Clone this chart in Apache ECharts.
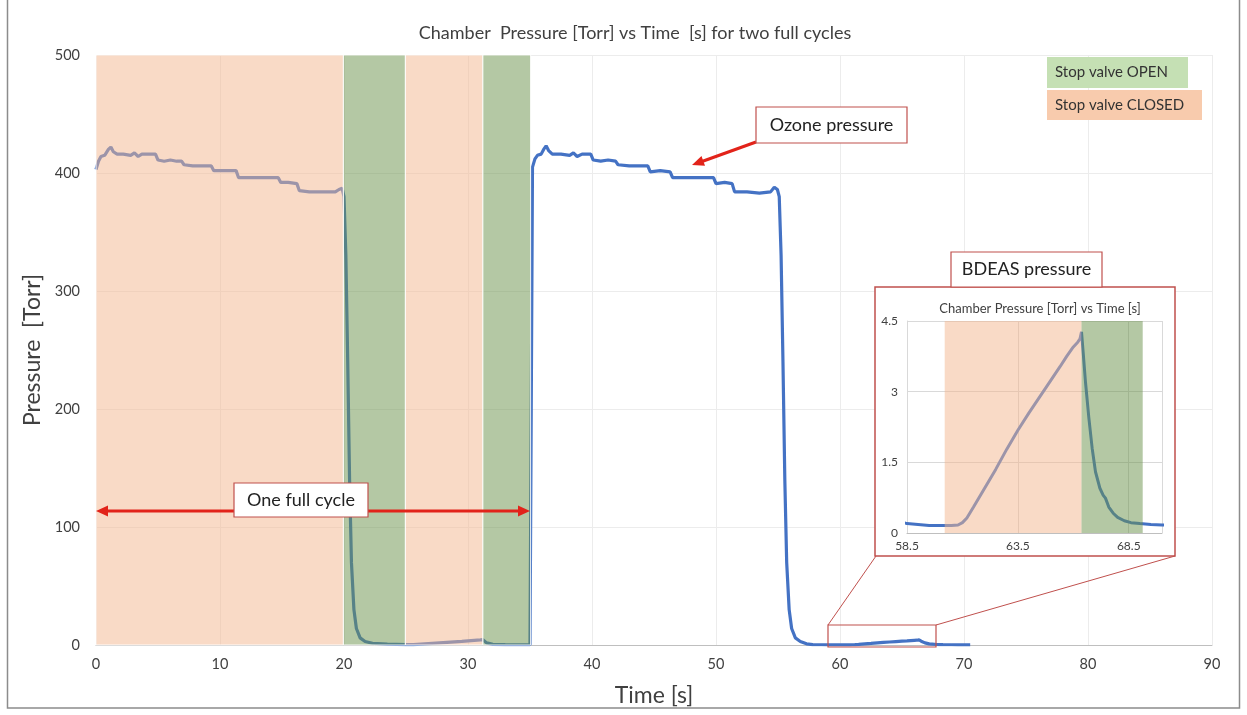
<!DOCTYPE html>
<html>
<head>
<meta charset="utf-8">
<script src="https://cdn.jsdelivr.net/npm/echarts@6/dist/echarts.min.js"></script>
<style>html,body{margin:0;padding:0;background:#fff;}#c{width:1247px;height:715px;}</style>
</head>
<body>
<div id="c"></div>
<script>
// ---- data ----
const timeS = [
  0, 0.2, 0.4, 0.7, 1.0, 1.2, 1.4, 1.7, 2.2, 2.8, 3.1, 3.4, 3.7, 4.1, 4.8, 5.0, 5.5, 6.0, 6.5, 6.9,
  7.1, 7.8, 8.5, 9.3, 9.5, 10.2, 11.3, 11.5, 12.5, 13.5, 14.7, 14.9, 15.5, 16.2, 16.4, 17.2, 18.2, 19.3, 19.6, 19.85,
  20.0, 20.15, 20.3, 20.45, 20.6, 20.8, 21.0, 21.3, 21.7, 22.3, 23.5, 25.0, 25.6, 26.5, 28.0, 29.5, 31.0, 31.2, 31.5, 32.0,
  33.0, 35.0, 35.1, 35.2, 35.4, 35.6, 35.9, 36.1, 36.3, 36.5, 36.8, 37.5, 38.2, 38.5, 38.8, 39.2, 39.9, 40.1, 40.7, 41.3,
  41.9, 42.1, 43.0, 44.5, 44.7, 45.5, 46.3, 46.5, 48.0, 49.8, 50.0, 50.7, 51.3, 51.5, 52.5, 53.5, 54.4, 54.7, 54.95, 55.1,
  55.25, 55.4, 55.55, 55.7, 55.9, 56.1, 56.4, 56.8, 57.3, 57.8, 58.5, 59.0, 59.5, 60.0, 60.5, 60.8, 61.0, 61.2, 61.5, 62.0,
  62.5, 63.0, 63.5, 64.0, 64.5, 65.0, 65.4, 65.7, 66.0, 66.2, 66.3, 66.37, 66.45, 66.55, 66.7, 66.85, 67.0, 67.2, 67.35, 67.45,
  67.6, 67.8, 68.0, 68.3, 68.6, 69.0, 69.5, 70.0, 70.5
];
const pressureTorr = [
  403, 410, 414, 415, 420, 422, 418, 416, 416, 415, 417, 414, 416, 416, 416, 411, 410, 411, 410, 410,
  407, 406, 406, 406, 402, 402, 402, 396, 396, 396, 396, 392, 392, 391, 385, 384, 384, 384, 386, 387,
  380, 330, 240, 140, 70, 30, 14, 6, 3, 1.5, 0.8, 0.3, 0.3, 1.0, 2.0, 3.0, 4.3, 4.5, 1.8, 0.5,
  0.3, 0.2, 200, 405, 412, 415, 416, 420, 423, 419, 416, 416, 415, 417, 414, 416, 416, 411, 410, 411,
  410, 407, 406, 406, 401, 402, 401, 396, 396, 396, 391, 392, 391, 384, 384, 383, 384, 388, 386, 380,
  330, 240, 140, 70, 30, 14, 6, 3, 1.0, 0.3, 0.2, 0.18, 0.16, 0.16, 0.16, 0.17, 0.22, 0.32, 0.55, 0.95,
  1.35, 1.78, 2.18, 2.55, 2.9, 3.25, 3.53, 3.75, 3.95, 4.05, 4.12, 4.27, 3.8, 3.2, 2.45, 1.8, 1.3, 0.95, 0.8, 0.74,
  0.55, 0.42, 0.33, 0.26, 0.22, 0.2, 0.18, 0.17, 0.17
];
// valve state bands (main chart)
const bandStart = [0, 19.95, 24.95, 31.2];
const bandEnd   = [19.95, 24.95, 31.2, 35.05];
const bandState = ['CLOSED', 'OPEN', 'CLOSED', 'OPEN'];
// valve state bands (inset)
const insetBandStart = [60.2, 66.37];
const insetBandEnd   = [66.37, 69.13];
const insetBandState = ['CLOSED', 'OPEN'];
// axis ticks
const mainXTicks = {min: 0, max: 90, interval: 10};
const mainYTicks = {min: 0, max: 500, interval: 100};
const insetXTicks = {min: 58.5, max: 70, interval: 5};
const insetYTicks = {min: 0, max: 4.5, interval: 1.5};
const insetFrom = 57.8;

// ---- build ----
const FONT = 'Lato, "Open Sans", sans-serif';
const bandFill = {CLOSED: 'rgba(243,181,141,0.5)', OPEN: 'rgba(105,145,73,0.5)'};
const pts = timeS.map((t, i) => [t, pressureTorr[i]]);
const insetPts = pts.filter(p => p[0] >= insetFrom);
function bands(s, e, st) {
  return s.map((v, i) => [{xAxis: v, itemStyle: {color: bandFill[st[i]]}}, {xAxis: e[i]}]);
}
const RED = '#C0504D';
const ARW = '#E2231A';

const chart = echarts.init(document.getElementById('c'), null, {renderer: 'canvas'});
const option = {
  backgroundColor: '#fff',
  animation: false,
  title: [
    {text: 'Chamber  Pressure [Torr] vs Time  [s] for two full cycles', left: 630, top: 19, textAlign: 'center',
     textStyle: {fontFamily: FONT, fontSize: 18, fontWeight: 'normal', color: '#404040'}},
    {text: 'Chamber Pressure [Torr] vs Time [s]', left: 1035, top: 297, textAlign: 'center', z: 8,
     textStyle: {fontFamily: FONT, fontSize: 13, fontWeight: 'normal', color: '#404040'}}
  ],
  grid: [
    {left: 96, right: 35, top: 55, bottom: 70},
    {left: 907, right: 85, top: 321, bottom: 182, z: 5}
  ],
  xAxis: [
    {type: 'value', gridIndex: 0, ...mainXTicks, z: 0,
     name: 'Time [s]', nameLocation: 'middle', nameGap: 39,
     nameTextStyle: {fontFamily: FONT, fontSize: 23, color: '#404040'},
     axisLine: {show: true, lineStyle: {color: '#bfbfbf', width: 1}}, axisTick: {show: false},
     axisLabel: {fontFamily: FONT, fontSize: 14.5, color: '#404040', margin: 12},
     splitLine: {show: true, lineStyle: {color: '#ececec', width: 1}}},
    {type: 'value', gridIndex: 1, ...insetXTicks, z: 5,
     axisLine: {show: true, lineStyle: {color: '#bfbfbf'}}, axisTick: {show: false},
     axisLabel: {fontFamily: FONT, fontSize: 12, color: '#404040', margin: 7, showMaxLabel: false},
     splitLine: {show: true, lineStyle: {color: '#d9d9d9'}}}
  ],
  yAxis: [
    {type: 'value', gridIndex: 0, ...mainYTicks, z: 0,
     name: 'Pressure  [Torr]', nameLocation: 'middle', nameGap: 50, nameRotate: 90,
     nameTextStyle: {fontFamily: FONT, fontSize: 23, color: '#404040'},
     axisLine: {show: false}, axisTick: {show: false},
     axisLabel: {fontFamily: FONT, fontSize: 14.5, color: '#404040', margin: 16},
     splitLine: {show: true, lineStyle: {color: '#ececec', width: 1}}},
    {type: 'value', gridIndex: 1, ...insetYTicks, z: 5,
     axisLine: {show: true, lineStyle: {color: '#d9d9d9'}}, axisTick: {show: false},
     axisLabel: {fontFamily: FONT, fontSize: 12, color: '#404040', margin: 9},
     splitLine: {show: true, lineStyle: {color: '#d9d9d9'}}}
  ],
  series: [
    {type: 'line', name: 'pressure', xAxisIndex: 0, yAxisIndex: 0, data: pts, z: 2,
     showSymbol: false, symbol: 'none', lineStyle: {color: '#4472C4', width: 3.2}},
    {type: 'line', name: 'valve', xAxisIndex: 0, yAxisIndex: 0, data: [], z: 3, silent: true,
     markArea: {silent: true, z: 3, itemStyle: {borderColor: 'rgba(255,255,255,0.9)', borderWidth: 1},
       data: bands(bandStart, bandEnd, bandState)}},
    {type: 'line', name: 'inset', xAxisIndex: 1, yAxisIndex: 1, data: insetPts, z: 6, clip: true,
     showSymbol: false, symbol: 'none', lineStyle: {color: '#4472C4', width: 3}},
    {type: 'line', name: 'insetValve', xAxisIndex: 1, yAxisIndex: 1, data: [], z: 7, silent: true,
     markArea: {silent: true, z: 7, itemStyle: {borderWidth: 0}, data: bands(insetBandStart, insetBandEnd, insetBandState)}}
  ],
  graphic: [
    // outer frame
    {type: 'rect', z: 20, silent: true, shape: {x: 7.5, y: -2, width: 1232, height: 710},
     style: {fill: 'none', stroke: '#8c8c8c', lineWidth: 1.5}},
    // legend
    {type: 'rect', z: 10, shape: {x: 1047, y: 57, width: 141, height: 31}, style: {fill: '#C5E0B4'}},
    {type: 'text', z: 11, x: 1055, y: 72.5, style: {text: 'Stop valve OPEN', fontFamily: FONT, fontSize: 15, fill: '#333', verticalAlign: 'middle'}},
    {type: 'rect', z: 10, shape: {x: 1047, y: 90, width: 155, height: 30}, style: {fill: '#F8CBAD'}},
    {type: 'text', z: 11, x: 1055, y: 105, style: {text: 'Stop valve CLOSED', fontFamily: FONT, fontSize: 15, fill: '#333', verticalAlign: 'middle'}},
    // ozone annotation
    {type: 'line', z: 10, shape: {x1: 756, y1: 142, x2: 702, y2: 161.5}, style: {stroke: ARW, lineWidth: 3}},
    {type: 'polygon', z: 10, shape: {points: [[692, 165], [705, 165.8], [701.5, 156]]}, style: {fill: ARW}},
    {type: 'rect', z: 11, shape: {x: 756, y: 107, width: 151, height: 36}, style: {fill: '#fff', stroke: RED, lineWidth: 1.2}},
    {type: 'text', z: 12, x: 831.5, y: 125, style: {text: 'Ozone pressure', fontFamily: FONT, fontSize: 18, fill: '#222', align: 'center', verticalAlign: 'middle'}},
    // one full cycle annotation
    {type: 'line', z: 10, shape: {x1: 106, y1: 511, x2: 520, y2: 511}, style: {stroke: ARW, lineWidth: 3}},
    {type: 'polygon', z: 10, shape: {points: [[96, 511], [108, 505.5], [108, 516.5]]}, style: {fill: ARW}},
    {type: 'polygon', z: 10, shape: {points: [[530, 511], [518, 505.5], [518, 516.5]]}, style: {fill: ARW}},
    {type: 'rect', z: 11, shape: {x: 234, y: 483, width: 134, height: 34}, style: {fill: '#fff', stroke: RED, lineWidth: 1.2}},
    {type: 'text', z: 12, x: 301, y: 500, style: {text: 'One full cycle', fontFamily: FONT, fontSize: 18, fill: '#222', align: 'center', verticalAlign: 'middle'}},
    // zoom indicator
    {type: 'rect', z: 10, shape: {x: 828, y: 625, width: 108, height: 22}, style: {fill: 'none', stroke: RED, lineWidth: 1.2}},
    {type: 'line', z: 10, shape: {x1: 828, y1: 625, x2: 876, y2: 556}, style: {stroke: RED, lineWidth: 1}},
    {type: 'line', z: 10, shape: {x1: 936, y1: 625, x2: 1175, y2: 556}, style: {stroke: RED, lineWidth: 1}},
    // inset container (under inset axes)
    {type: 'rect', z: 4, shape: {x: 875, y: 287, width: 300, height: 269}, style: {fill: '#fff', stroke: RED, lineWidth: 1.5}},
    // BDEAS label
    {type: 'rect', z: 11, shape: {x: 951, y: 252, width: 151, height: 35}, style: {fill: '#fff', stroke: RED, lineWidth: 1.2}},
    {type: 'text', z: 12, x: 1026.5, y: 269.5, style: {text: 'BDEAS pressure', fontFamily: FONT, fontSize: 18, fill: '#222', align: 'center', verticalAlign: 'middle'}}
  ]
};
chart.setOption(option);
</script>
</body>
</html>
